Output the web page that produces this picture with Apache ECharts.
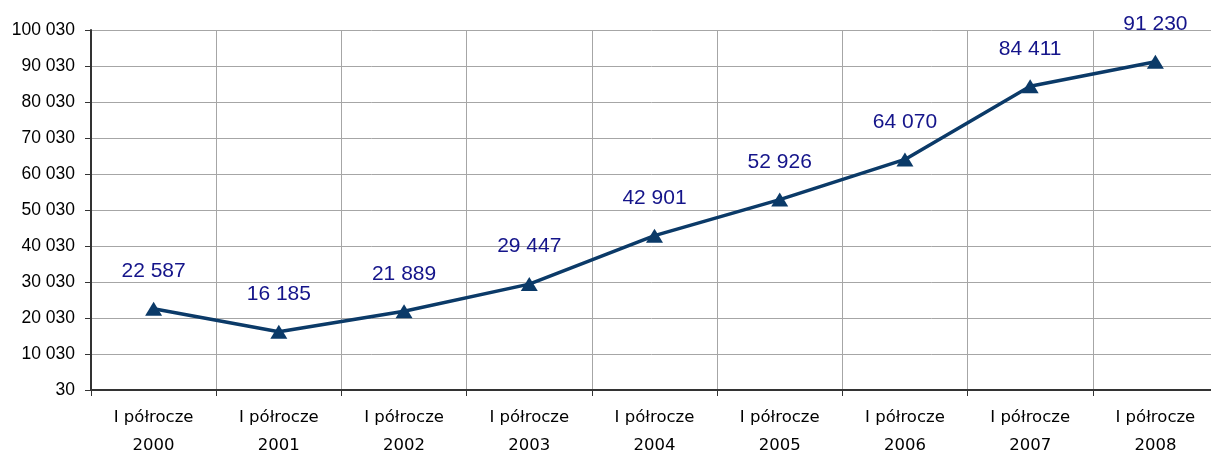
<!DOCTYPE html>
<html>
<head>
<meta charset="utf-8">
<script src="https://cdn.jsdelivr.net/npm/echarts@6/dist/echarts.min.js"></script>
<style>
  html, body { margin: 0; padding: 0; background: #fff; }
  #main { width: 1211px; height: 454px; }
</style>
</head>
<body>
<div id="main"></div>
<script>
// kategorie (półrocza)
var categories = ['I półrocze\n2000', 'I półrocze\n2001', 'I półrocze\n2002', 'I półrocze\n2003',
                  'I półrocze\n2004', 'I półrocze\n2005', 'I półrocze\n2006', 'I półrocze\n2007',
                  'I półrocze\n2008'];
// wartości serii
var values = [22587, 16185, 21889, 29447, 42901, 52926, 64070, 84411, 91230];
// oś y
var yMin = 30;
var yMax = 100030;
var yStep = 10000;

// separator tysięcy: spacja
function fmt(v) {
    return String(Math.round(v)).replace(/\B(?=(\d{3})+(?!\d))/g, ' ');
}

var myChart = echarts.init(document.getElementById('main'));
var option = {
    animation: false,
    grid: { left: 91, right: -7, top: 30, bottom: 64, outerBoundsMode: 'none' },
    xAxis: {
        type: 'category',
        data: categories,
        boundaryGap: true,
        axisLine: { lineStyle: { color: '#333', width: 2 } },
        axisTick: { show: true, length: 6, interval: 0, lineStyle: { color: '#333' } },
        axisLabel: {
            interval: 0,
            color: '#000',
            fontFamily: 'DejaVu Sans',
            fontSize: 16.5,
            lineHeight: 28,
            margin: 14
        },
        splitLine: { show: true, interval: 0, lineStyle: { color: '#a6a6a6', width: 1 } }
    },
    yAxis: {
        type: 'value',
        min: yMin,
        max: yMax,
        interval: yStep,
        axisLine: { show: true, lineStyle: { color: '#333', width: 2 } },
        axisTick: { show: true, length: 6, lineStyle: { color: '#333' } },
        axisLabel: {
            color: '#000',
            fontFamily: 'Liberation Sans',
            fontSize: 17.5,
            margin: 16,
            formatter: fmt
        },
        splitLine: { show: true, lineStyle: { color: '#a6a6a6', width: 1 } }
    },
    series: [
        {
            type: 'line',
            data: values,
            symbol: 'triangle',
            symbolSize: [17, 14],
            lineStyle: { color: '#0b3a68', width: 3.5 },
            itemStyle: { color: '#0b3a68' },
            label: {
                show: true,
                position: 'top',
                distance: 20,
                color: '#14148a',
                fontFamily: 'Liberation Sans',
                fontSize: 21,
                formatter: function (p) { return fmt(p.value); }
            }
        }
    ]
};
myChart.setOption(option);
</script>
</body>
</html>
